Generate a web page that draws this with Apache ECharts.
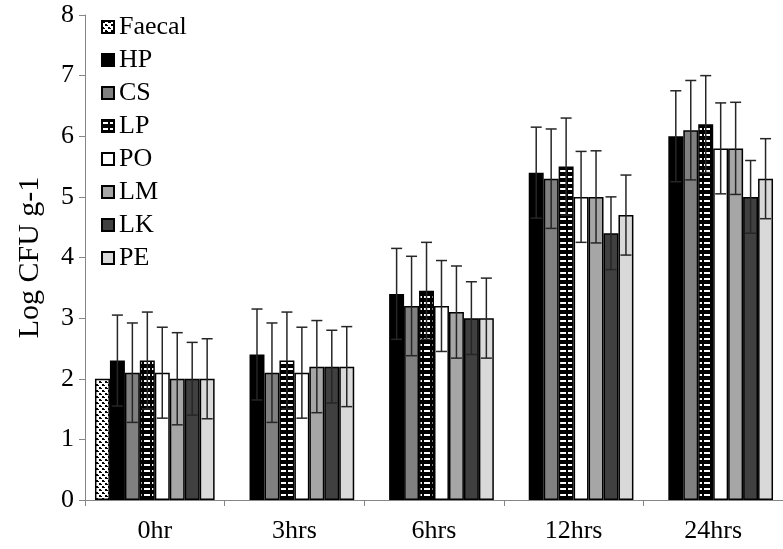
<!DOCTYPE html>
<html><head><meta charset="utf-8">
<script src="https://cdn.jsdelivr.net/npm/echarts@6/dist/echarts.min.js"></script>
<style>html,body{margin:0;padding:0;background:#fff}#c{width:783px;height:549px}</style>
</head><body><div id="c"></div>
<script>
const categories = ['0hr', '3hrs', '6hrs', '12hrs', '24hrs'];
const seriesNames = ['Faecal', 'HP', 'CS', 'LP', 'PO', 'LM', 'LK', 'PE'];
const faecal = [2.0, null, null, null, null];
const hp = [2.3, 2.4, 3.4, 5.4, 6.0];
const cs = [2.1, 2.1, 3.2, 5.3, 6.1];
const lp = [2.3, 2.3, 3.45, 5.5, 6.2];
const po = [2.1, 2.1, 3.2, 5.0, 5.8];
const lm = [2.0, 2.2, 3.1, 5.0, 5.8];
const lk = [2.0, 2.2, 3.0, 4.4, 5.0];
const pe = [2.0, 2.2, 3.0, 4.7, 5.3];
const errors = [0, 0.75, 0.82, 0.8, 0.75, 0.76, 0.6, 0.66];
const yMin = 0, yMax = 8, yStep = 1;

const values = [faecal, hp, cs, lp, po, lm, lk, pe];
const FONT = '"Liberation Serif", "Times New Roman", serif';

function makePattern(w, h, draw) {
  const c = document.createElement('canvas');
  c.width = w; c.height = h;
  const ctx = c.getContext('2d');
  draw(ctx);
  return { image: c, repeat: 'repeat' };
}
const faecalPattern = makePattern(6, 6, ctx => {
  ctx.fillStyle = '#fff'; ctx.fillRect(0, 0, 6, 6);
  ctx.fillStyle = '#000';
  ctx.fillRect(0, 0, 2, 2); ctx.fillRect(3, 3, 2, 2);
  ctx.fillRect(2, 1, 1, 1); ctx.fillRect(5, 4, 1, 1);
});
const lpPattern = makePattern(8, 6, ctx => {
  ctx.fillStyle = '#000'; ctx.fillRect(0, 0, 8, 6);
  ctx.fillStyle = '#fff'; ctx.fillRect(0, 2, 6, 2);
});
const fills = [faecalPattern, '#000000', '#808080', lpPattern, '#ffffff', '#a6a6a6', '#404040', '#d9d9d9'];

const gapRatio = 20 / 140;
const series = values.map((arr, i) => ({
  name: seriesNames[i],
  type: 'bar',
  data: arr,
  barGap: '0%',
  barCategoryGap: (gapRatio * 100).toFixed(2) + '%',
  itemStyle: { color: fills[i], borderColor: '#000', borderWidth: 1.5 },
  emphasis: { disabled: true },
  animation: false
}));

const errData = [];
values.forEach((arr, si) => arr.forEach((v, ci) => {
  if (v != null && errors[si] > 0) errData.push([ci, v, errors[si], si]);
}));
series.push({
  type: 'custom',
  name: 'err',
  z: 10,
  animation: false,
  data: errData,
  encode: { x: 0, y: 1 },
  renderItem(params, api) {
    const ci = api.value(0), v = api.value(1), e = api.value(2), si = api.value(3);
    const catW = api.size([1, 0])[0];
    const bw = catW * (1 - gapRatio) / values.length;
    const cx = api.coord([ci, v])[0] + (si - (values.length - 1) / 2) * bw;
    const yT = api.coord([ci, v + e])[1];
    const yB = api.coord([ci, v - e])[1];
    const h = 5.5;
    const st = { stroke: '#262626', lineWidth: 1.5 };
    return { type: 'group', children: [
      { type: 'line', shape: { x1: cx, y1: yT, x2: cx, y2: yB }, style: st },
      { type: 'line', shape: { x1: cx - h, y1: yT, x2: cx + h, y2: yT }, style: st },
      { type: 'line', shape: { x1: cx - h, y1: yB, x2: cx + h, y2: yB }, style: st }
    ]};
  }
});

const chart = echarts.init(document.getElementById('c'), null, { renderer: 'canvas' });
chart.setOption({
  animation: false,
  backgroundColor: '#fff',
  textStyle: { fontFamily: FONT },
  grid: { left: 85, top: 15, width: 700, height: 485, containLabel: false },
  legend: {
    data: seriesNames,
    orient: 'vertical',
    left: 96, top: 9,
    itemWidth: 12, itemHeight: 12,
    itemGap: 7,
    icon: 'rect',
    selectedMode: false,
    textStyle: { fontFamily: FONT, fontSize: 26, color: '#000', lineHeight: 26 }
  },
  xAxis: {
    type: 'category',
    data: categories,
    axisLine: { lineStyle: { color: '#868686', width: 1 } },
    axisTick: { show: true, alignWithLabel: false, length: 6, lineStyle: { color: '#868686' } },
    axisLabel: { fontFamily: FONT, fontSize: 26, color: '#000', margin: 18 },
    splitLine: { show: false }
  },
  yAxis: {
    type: 'value',
    min: yMin, max: yMax, interval: yStep,
    name: 'Log CFU g-1',
    nameLocation: 'middle',
    nameGap: 40,
    nameTextStyle: { fontFamily: FONT, fontSize: 30, color: '#000' },
    axisLine: { show: true, lineStyle: { color: '#868686', width: 1 } },
    axisTick: { show: true, length: 6, lineStyle: { color: '#868686' } },
    axisLabel: { fontFamily: FONT, fontSize: 26, color: '#000', margin: 11 },
    splitLine: { show: false }
  },
  series: series
});
</script>
</body></html>
